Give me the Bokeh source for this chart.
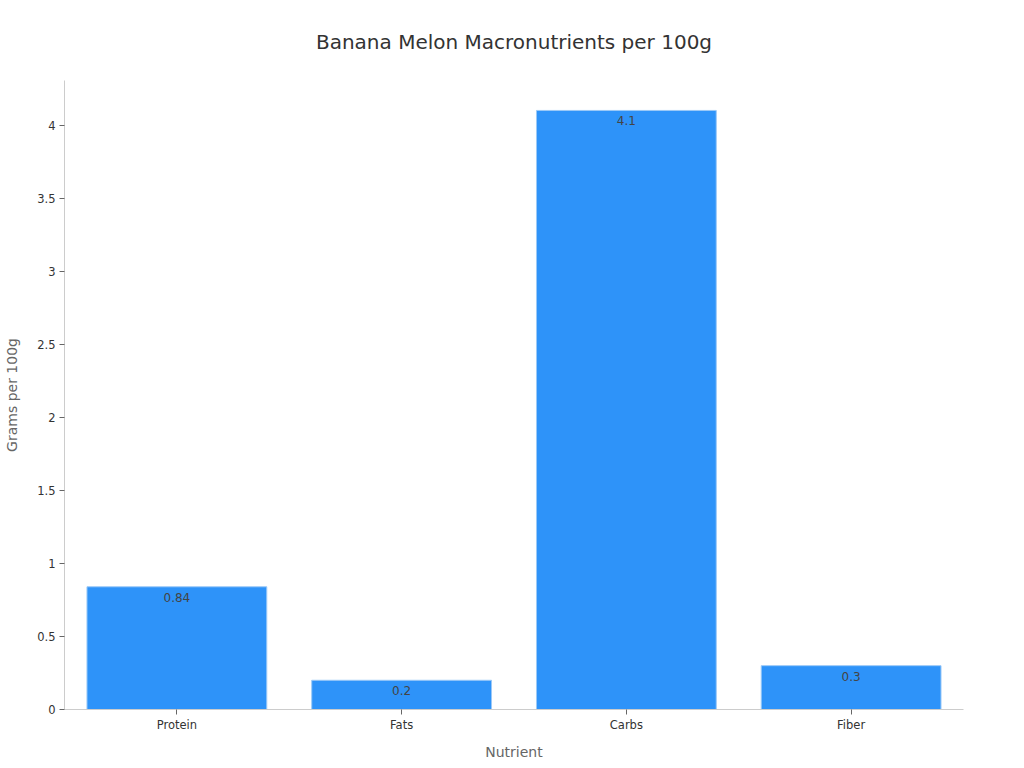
from bokeh.plotting import figure
from bokeh.models import ColumnDataSource, Range1d, FactorRange, Title
from bokeh.embed import file_html
from bokeh.resources import INLINE

nutrients = ["Protein", "Fats", "Carbs", "Fiber"]
grams = [0.84, 0.2, 4.1, 0.3]
labels = ["0.84", "0.2", "4.1", "0.3"]
y_ticks = [0, 0.5, 1, 1.5, 2, 2.5, 3, 3.5, 4]

FONT = "DejaVu Sans"

src = ColumnDataSource(dict(x=nutrients, top=grams, label=labels))

p = figure(
    x_range=FactorRange(*nutrients, range_padding=0.0),
    y_range=Range1d(0, 4.305),
    width=1016, height=762,
    output_backend="svg", toolbar_location=None,
    min_border_left=64, min_border_right=53,
    min_border_top=80, min_border_bottom=52,
)
p.title = Title(text="Banana Melon Macronutrients per 100g", align="center",
                text_font=FONT, text_font_size="20px", text_font_style="normal",
                text_color="#333333", offset=0)
p.title.standoff = 54

p.vbar(x="x", top="top", width=0.8, source=src,
       fill_color="#2E93F9", line_color="#9CC9F7", line_width=1)

p.text(x="x", y="top", text="label", source=src,
       text_align="center", text_baseline="top", y_offset=6,
       text_font={"value": FONT}, text_font_size="12px", text_color="#444444")

p.xgrid.visible = False
p.ygrid.visible = False
p.outline_line_color = None

for ax in (p.xaxis, p.yaxis):
    ax.axis_line_color = "#cccccc"
    ax.major_tick_line_color = "#666666"
    ax.minor_tick_line_color = None
    ax.major_label_text_font = FONT
    ax.major_label_text_font_size = "11.5px"
    ax.major_label_text_color = "#333333"
    ax.axis_label_text_font = FONT
    ax.axis_label_text_font_size = "14px"
    ax.axis_label_text_font_style = "normal"
    ax.axis_label_text_color = "#666666"
    ax.major_tick_in = 0
    ax.major_tick_out = 5

p.xaxis.axis_label = "Nutrient"
p.yaxis.axis_label = "Grams per 100g"
p.xaxis.axis_label_standoff = 9
p.yaxis.axis_label_standoff = 14
p.yaxis.major_label_standoff = 4
p.xaxis.major_label_standoff = 3
p.yaxis.ticker = y_ticks
p.yaxis.major_label_overrides = {0: "0", 1: "1", 2: "2", 3: "3", 4: "4"}

open("out.html", "w").write(file_html(p, INLINE))
